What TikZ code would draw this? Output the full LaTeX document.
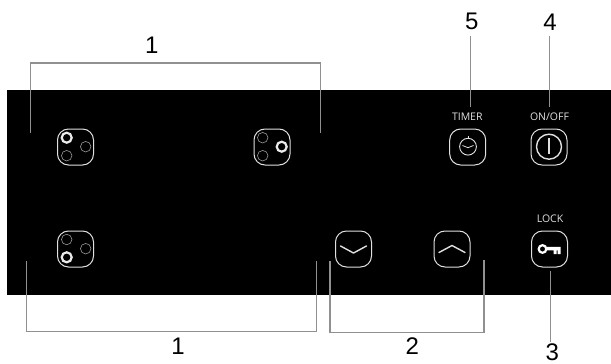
\documentclass[tikz,border=0pt]{standalone}
\usepackage{fontspec}
\setmainfont{Liberation Sans}
\newfontfamily\panelfont{Open Sans}
\definecolor{lead}{HTML}{909090}
\definecolor{outl}{HTML}{E0E0E0}
\tikzset{
  btn/.style={draw=outl,line width=1pt,rounded corners=11pt,minimum size=36pt,inner sep=0pt,fill=black},
  thinring/.style={circle,draw=white!60!black,line width=0.6pt,minimum size=10.5pt,inner sep=0pt},
  boldring/.style={circle,draw=white!92!black,line width=2.2pt,minimum size=10pt,inner sep=0pt},
  leader/.style={draw=lead,line width=1.2pt},
  num/.style={font=\fontsize{24}{24}\selectfont,text=black,inner sep=0pt},
  captext/.style={font=\panelfont\fontsize{10.5}{10.5}\selectfont,text=outl,inner sep=0pt},
  glyph/.style={draw=outl,line width=1.4pt,line cap=round,line join=round},
}
\begin{document}
\begin{tikzpicture}[x=1pt,y=-1pt]
\useasboundingbox (0,0) rectangle (611,364);
\fill[black] (7,90) rectangle (611,295);
% buttons
\node[btn] (zoneTL) at (75.5,147) {};
\node[btn] (zoneTR) at (272,147) {};
\node[btn] (zoneBL) at (75.5,249) {};
\node[btn] (down) at (353.5,249) {};
\node[btn] (up) at (452,249) {};
\node[btn] (lock) at (549.5,249) {};
\node[btn] (timer) at (467.7,147) {};
\node[btn] (onoff) at (549,147) {};
% zone rings
\node[boldring] (r1) at (66.7,137.7) {};
\node[thinring] (r2) at (85.7,146.7) {};
\node[thinring] (r3) at (66.7,155.7) {};
\node[thinring] (r4) at (262.7,137.7) {};
\node[thinring] (r5) at (262.7,155.7) {};
\node[boldring] (r6) at (281.7,146.7) {};
\node[thinring] (r7) at (66.7,239.5) {};
\node[thinring] (r8) at (85.7,248.7) {};
\node[boldring] (r9) at (66.7,257.3) {};
% chevrons
\draw[glyph] (340.5,246) -- (353.5,253) -- (366.5,246);
\draw[glyph] (439,252.5) -- (452,245.5) -- (465,252.5);
% key
\draw[white,line width=2.2pt] (542.5,249) circle (3.8pt);
\fill[white] (546.5,246.9) -- (560.5,246.9) -- (560.5,254.2) -- (557.6,254.2) -- (557.6,250.4) -- (556.6,250.4) -- (556.6,254.2) -- (553.7,254.2) -- (553.7,250.4) -- (546.5,250.4) -- cycle;
% timer
\draw[draw=outl,line width=0.9pt] (468,146.7) circle (8.4pt);
\draw[outl,line width=1pt] (468,135.8) -- (468,137.5);
\draw[outl,line width=0.8pt] (462.5,145.5) -- (468,147.7) -- (473.5,145.5);
% power
\draw[draw=outl,line width=1.4pt] (549,146.7) circle (12.5pt);
\draw[draw=outl,line width=1.5pt] (549,138.3) -- (549,154.3);
% captions
\node[captext] (tTimer) at (467.3,116.8) {TIMER};
\node[captext] (tOnoff) at (549.5,116.8) {ON/OFF};
\node[captext] (tLock) at (550,219) {LOCK};
% numbers
\node[num] (n1a) at (151.7,45.7) {1};
\node[num] (n1b) at (178,346.5) {1};
\node[num] (n2) at (412.3,346.5) {2};
\node[num] (n3) at (552.3,352.5) {3};
\node[num] (n4) at (550,22.7) {4};
\node[num] (n5) at (471.7,21.7) {5};
% leader ends
\coordinate (a1) at (30.7,133); \coordinate (a2) at (30.7,63);
\coordinate (a3) at (320.5,63); \coordinate (a4) at (320.5,133);
\coordinate (b1) at (26.7,261); \coordinate (b2) at (26.7,331.7);
\coordinate (b3) at (316.7,331.7); \coordinate (b4) at (316.7,261);
\coordinate (c1) at (330,261); \coordinate (c2) at (330,332.3);
\coordinate (c3) at (484,332.3); \coordinate (c4) at (484,260);
\coordinate (d1) at (550.7,271); \coordinate (d2) at (550.7,341.7);
\coordinate (e1) at (470.7,36); \coordinate (e2) at (470.7,106.7);
\coordinate (f1) at (549.7,36); \coordinate (f2) at (549.7,106.7);
\draw[leader] (a1) -- (a2) -- (a3) -- (a4);
\draw[leader] (b1) -- (b2) -- (b3) -- (b4);
\draw[leader] (c1) -- (c2) -- (c3) -- (c4);
\draw[leader] (d1) -- (d2);
\draw[leader] (e1) -- (e2);
\draw[leader] (f1) -- (f2);
\end{tikzpicture}
\end{document}
